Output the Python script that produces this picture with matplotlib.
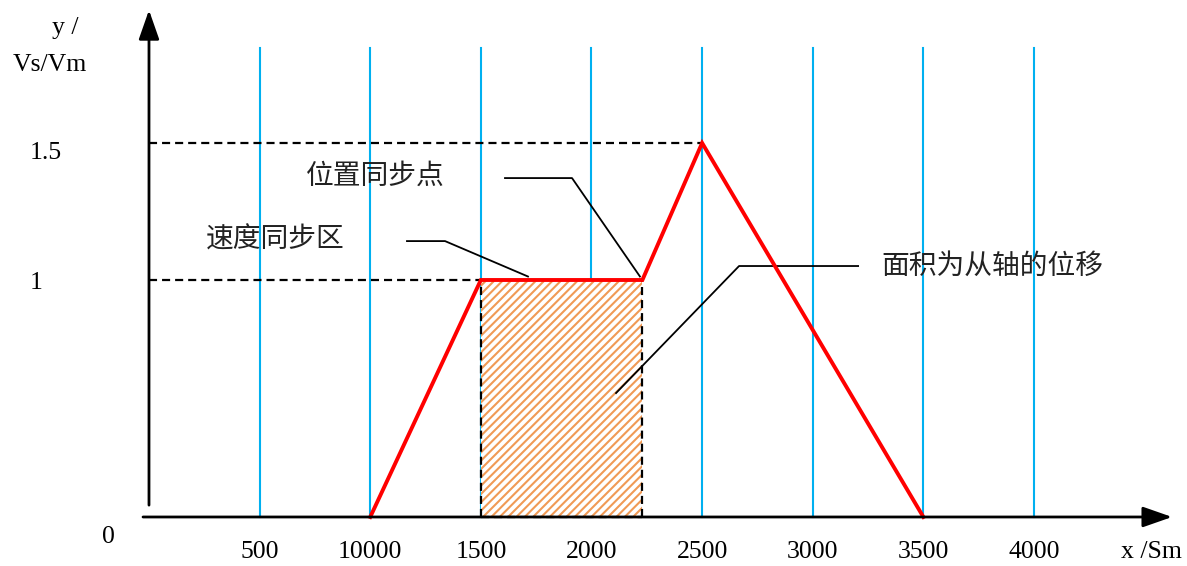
import numpy as np
import matplotlib
matplotlib.use("Agg")
import matplotlib.pyplot as plt

plt.rcParams['lines.scale_dashes'] = False
plt.rcParams['hatch.linewidth'] = 1.5
plt.rcParams['hatch.color'] = '#F09A55'

# ---------------- data ----------------
grid_x = [500, 1000, 1500, 2000, 2500, 3000, 3500, 4000]
tick_labels = ['500', '10000', '1500', '2000', '2500', '3000', '3500', '4000']
curve_x = [1000, 1500, 2230, 2500, 3500]
curve_y = [0, 1, 1, 1.5, 0]
area_x = [1500, 2230]
area_y = [1, 1]
y_ticks = [1, 1.5]
y_tick_labels = ['1', '1.5']
annotations = ['位置同步点', '速度同步区', '面积为从轴的位移']

# --------------- scale ----------------
def fwd(v):
    v = np.asarray(v, dtype=float)
    return np.where(v <= 1, 237.0 * v, 237.0 + 274.0 * (v - 1))

def inv(p):
    p = np.asarray(p, dtype=float)
    return np.where(p <= 237.0, p / 237.0, 1 + (p - 237.0) / 274.0)

fig = plt.figure(figsize=(11.87, 5.66), dpi=100)
ax = fig.add_axes([0, 0, 1, 1])
ax.set_yscale('function', functions=(fwd, inv))
ax.set_xlim(-673.4, 4691.5)
ax.set_ylim(-0.2068, 2.0219)
ax.axis('off')

serif = ['Liberation Serif', 'DejaVu Serif']
cjk = ['Noto Sans CJK SC', 'DejaVu Sans']
blue = '#00B0F0'
dash = (0, (5.8, 3.6))

# blue vertical grid lines
grid_top = 1.847
for gx in grid_x:
    ax.plot([gx, gx], [0, grid_top], color=blue, lw=1.5, zorder=1)

# hatched area
ax.fill_between(area_x, 0, area_y, facecolor='white', edgecolor='#F09A55',
                hatch='////', linewidth=0, zorder=2)
for bx in area_x:
    ax.plot([bx, bx], [0, 1], color='black', lw=1.6, linestyle=dash, zorder=3)
ax.plot(area_x, [0, 0], color='black', lw=1.6, linestyle=dash, zorder=3)

# dashed reference lines
ax.plot([0, curve_x[1]], [curve_y[1], curve_y[1]], color='black', lw=1.6,
        linestyle=dash, zorder=3)
ax.plot([0, curve_x[3]], [curve_y[3], curve_y[3]], color='black', lw=1.6,
        linestyle=dash, zorder=3)

# red curve
ax.plot(curve_x, curve_y, color='#FF0000', lw=2.8, zorder=5,
        solid_joinstyle='miter')

# axes with arrows
ax.annotate('', xy=(0, 1.985), xytext=(0, 0.05),
            arrowprops=dict(arrowstyle='-|>,head_length=1.0,head_width=0.35',
                            color='black', lw=2, mutation_scale=18,
                            shrinkA=0, shrinkB=0), zorder=6)
ax.annotate('', xy=(4624, 0), xytext=(-27, 0),
            arrowprops=dict(arrowstyle='-|>,head_length=1.0,head_width=0.35',
                            color='black', lw=2, mutation_scale=18,
                            shrinkA=0, shrinkB=0), zorder=6)

# tick labels
for gx, lab in zip(grid_x, tick_labels):
    ax.text(gx, -0.148, lab, ha='center', va='center', fontsize=18.5,
            family=serif)
ax.text(-185, -0.084, '0', ha='center', va='center', fontsize=18.5, family=serif)
ax.text(4533, -0.148, 'x /Sm', ha='center', va='center', fontsize=18.5, family=serif)
ax.text(-538, 0.987, y_tick_labels[0], ha='left', va='center', fontsize=18.5,
        family=serif)
ax.text(-538, 1.4635, y_tick_labels[1], ha='left', va='center', fontsize=18.5,
        family=serif)
ax.text(-380, 1.92, 'y /', ha='center', va='center', fontsize=18.5, family=serif)
ax.text(-447, 1.785, 'Vs/Vm', ha='center', va='center', fontsize=18.5, family=serif)

# annotations with leader lines
ax.text(1021, 1.38, annotations[0], ha='center', va='center', fontsize=20,
        family=cjk, color='#222222')
ax.plot([1609, 1912, 2219], [1.372, 1.372, 1.0127], color='black', lw=1.3, zorder=4)

ax.text(569, 1.146, annotations[1], ha='center', va='center', fontsize=20,
        family=cjk, color='#222222')
ax.plot([1166, 1338, 1713], [1.142, 1.142, 1.0127], color='black', lw=1.3, zorder=4)

ax.text(3810, 1.051, annotations[2], ha='center', va='center', fontsize=20,
        family=cjk, color='#222222')
ax.plot([3205, 2667, 2111], [1.051, 1.051, 0.523], color='black', lw=1.3, zorder=4)

fig.savefig('out.png', dpi=100)
